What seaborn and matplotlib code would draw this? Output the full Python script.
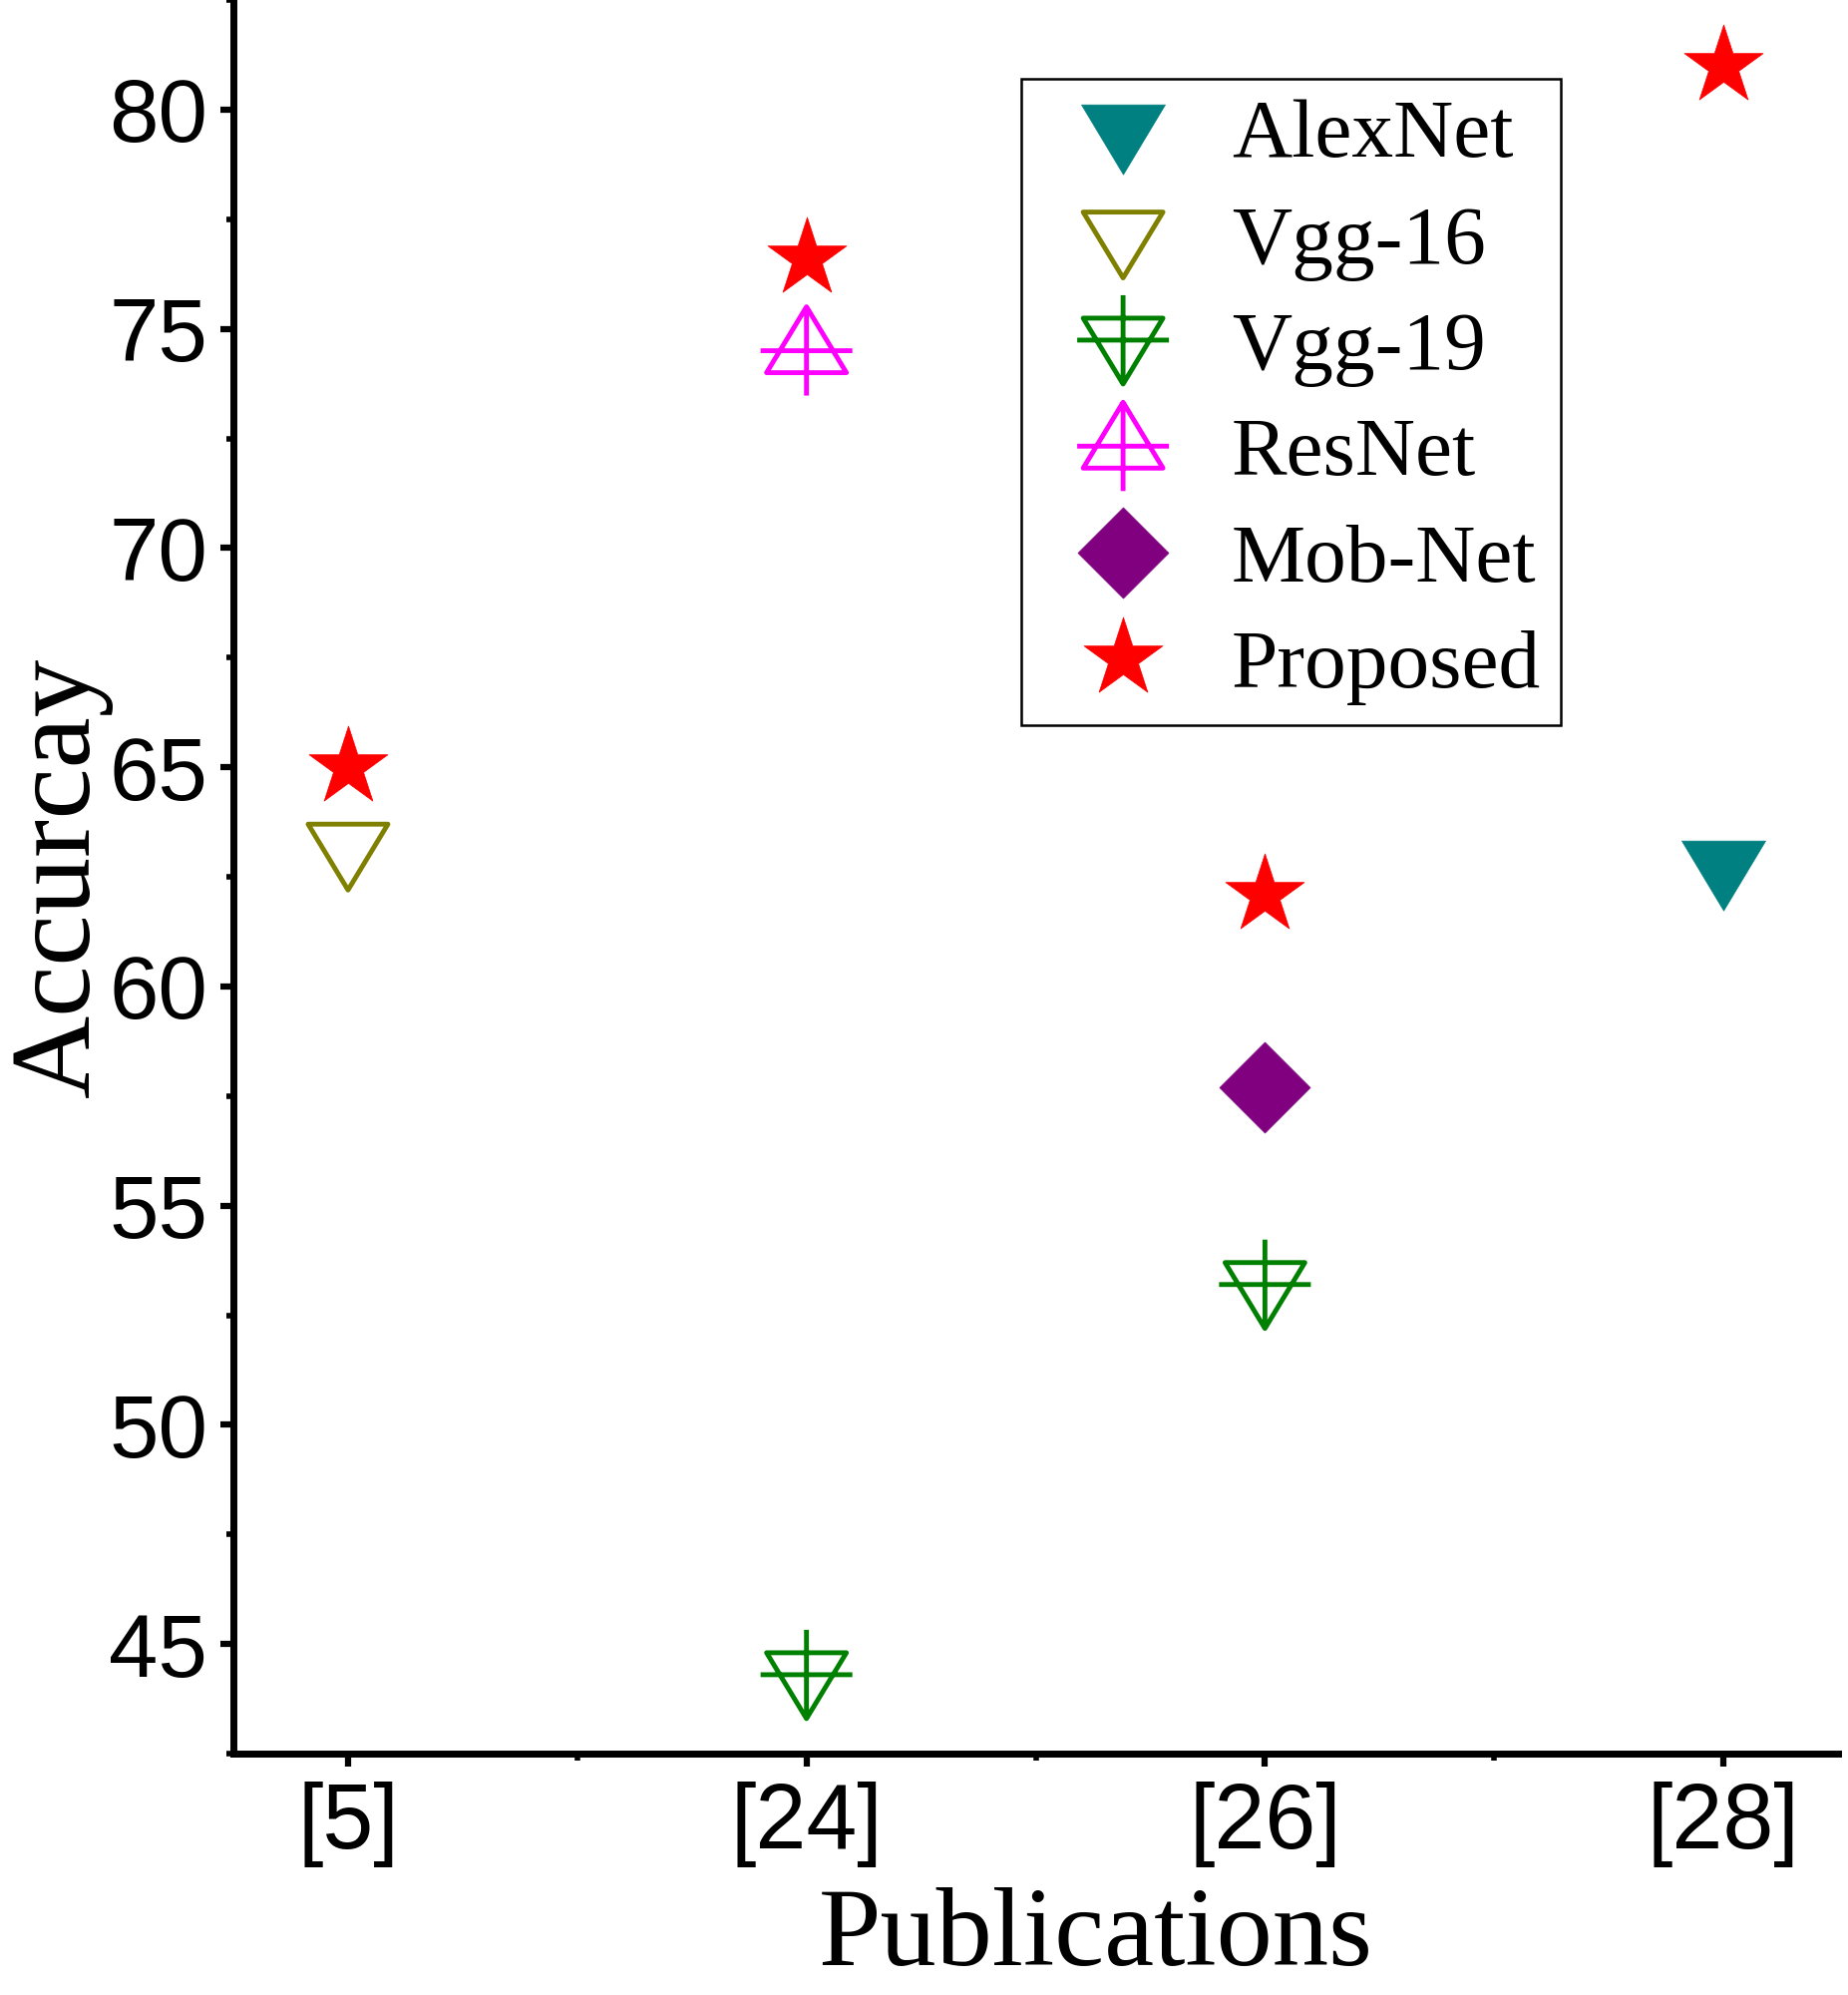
import numpy as np
import pandas as pd
import seaborn as sns
import matplotlib.pyplot as plt
from matplotlib.path import Path
from matplotlib.ticker import MultipleLocator, FixedLocator

sns.set_style("ticks")
plt.rcParams['font.family'] = ['Liberation Sans', 'DejaVu Sans']
plt.rcParams['text.color'] = 'black'
plt.rcParams['axes.labelcolor'] = 'black'
plt.rcParams['xtick.color'] = 'black'
plt.rcParams['ytick.color'] = 'black'

DPI = 100

pubs = ['[5]', '[24]', '[26]', '[28]']
models = ['AlexNet', 'Vgg-16', 'Vgg-19', 'ResNet', 'Mob-Net', 'Proposed']

alexnet = [np.nan, np.nan, np.nan, 62.8]
vgg16 = [63.2, np.nan, np.nan, np.nan]
vgg19 = [np.nan, 44.3, 53.2, np.nan]
resnet = [np.nan, 74.5, np.nan, np.nan]
mobnet = [np.nan, np.nan, 57.7, np.nan]
proposed = [65.0, 76.6, 62.1, 81.0]

colors = {
    'AlexNet': '#008080',
    'Vgg-16': '#808000',
    'Vgg-19': '#008000',
    'ResNet': '#ff00ff',
    'Mob-Net': '#800080',
    'Proposed': '#ff0000',
}


def tri_down(w, h, plus=None, flip=False):
    # triangle centred on its centroid, optionally with a plus through it (pixels)
    verts = [(-w / 2, h / 3), (w / 2, h / 3), (0, -2 * h / 3), (-w / 2, h / 3)]
    codes = [Path.MOVETO, Path.LINETO, Path.LINETO, Path.CLOSEPOLY]
    if plus:
        pw, top, bot = plus
        verts += [(-pw, 0), (pw, 0), (0, top), (0, -bot)]
        codes += [Path.MOVETO, Path.LINETO, Path.MOVETO, Path.LINETO]
    verts = np.array(verts, dtype=float)
    if flip:
        verts[:, 1] *= -1
    return Path(verts, codes)


def diamond(r):
    verts = [(0, r), (r, 0), (0, -r), (-r, 0), (0, r)]
    codes = [Path.MOVETO, Path.LINETO, Path.LINETO, Path.LINETO, Path.CLOSEPOLY]
    return Path(verts, codes)


def size_of(path):
    # scatter size (pt^2) so the path keeps its pixel size
    return (2 * np.abs(path.vertices).max() * 72 / DPI) ** 2


markers = {
    'AlexNet': tri_down(84, 70),
    'Vgg-16': tri_down(80, 66),
    'Vgg-19': tri_down(80, 66, plus=(46, 45, 44)),
    'ResNet': tri_down(80, 66, plus=(46, 45, 44), flip=True),
    'Mob-Net': diamond(45.5),
}
hollow = {'Vgg-16', 'Vgg-19', 'ResNet'}

values = [alexnet, vgg16, vgg19, resnet, mobnet, proposed]
df = pd.concat([
    pd.DataFrame({'pub': pubs, 'model': m, 'acc': v}) for m, v in zip(models, values)
], ignore_index=True)

fig = plt.figure(figsize=(1853 / DPI, 2000 / DPI), dpi=DPI)
ax = fig.add_axes([0.1263, 0.121, 0.8683, 0.879])

for m in models:
    sub = df[df['model'] == m]
    if m == 'Proposed':
        mk, s = '*', (83 * 72 / DPI) ** 2
    else:
        mk, s = markers[m], size_of(markers[m])
    if m in hollow:
        sns.scatterplot(data=sub, x='pub', y='acc', ax=ax, marker=mk, s=s,
                        color=colors[m], facecolor='none', edgecolor=colors[m],
                        linewidth=3.5, label=m, zorder=3)
    else:
        sns.scatterplot(data=sub, x='pub', y='acc', ax=ax, marker=mk, s=s,
                        color=colors[m], edgecolor=colors[m], linewidth=0.5,
                        label=m, zorder=3)

ax.set_xlim(-0.25, 3.25)
ax.set_ylim(42.5, 82.5)
ax.yaxis.set_major_locator(MultipleLocator(5))
ax.yaxis.set_minor_locator(MultipleLocator(2.5))
ax.xaxis.set_minor_locator(FixedLocator([0.5, 1.5, 2.5]))

for side in ['top', 'right']:
    ax.spines[side].set_visible(False)
for side in ['left', 'bottom']:
    ax.spines[side].set_linewidth(5)
    ax.spines[side].set_color('black')

ax.tick_params(which='major', direction='out', length=9.5, width=4.5,
               color='black', labelcolor='black')
ax.tick_params(which='minor', direction='out', length=5, width=4, color='black')
ax.tick_params(axis='y', labelsize=64, pad=9)
ax.tick_params(axis='x', labelsize=66, pad=11)

serif = ['Liberation Serif', 'DejaVu Serif']
ax.set_xlabel('Publications', fontsize=81, family=serif, color='black')
ax.set_ylabel('Accurcay', fontsize=83, family=serif, color='black')
ax.xaxis.set_label_coords(0.5376, -0.0762)
ax.yaxis.set_label_coords(-0.075, 0.5)

leg = ax.legend(loc='upper left', bbox_to_anchor=(0.491, 0.955), borderaxespad=0,
                prop={'family': serif, 'size': 60}, frameon=True, fancybox=False,
                edgecolor='black', framealpha=1, borderpad=0.24, labelspacing=0.36,
                handlelength=1.97, handletextpad=0.32, scatterpoints=1,
                scatteryoffsets=[0.5])
leg.get_frame().set_linewidth(1.8)
for t in leg.get_texts():
    t.set_color('black')

fig.savefig('out.png', dpi=DPI)
